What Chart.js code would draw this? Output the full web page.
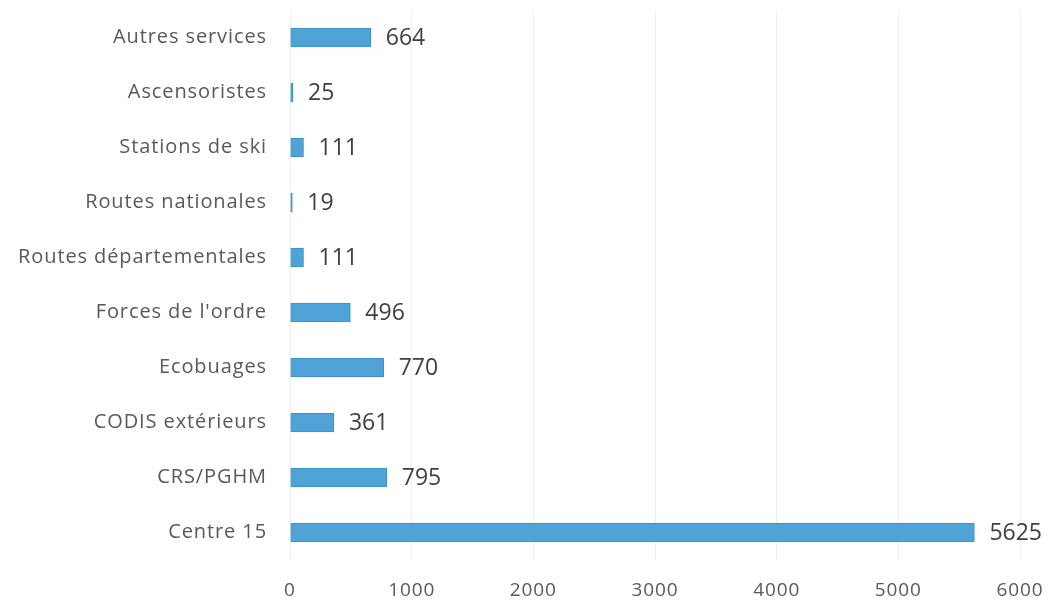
<!DOCTYPE html>
<html>
<head>
<meta charset="utf-8">
<script src="https://cdn.jsdelivr.net/npm/chart.js@4/dist/chart.umd.min.js"></script>
<style>
  html, body { margin: 0; padding: 0; background: #fff; }
  #wrap { width: 1057px; height: 616px; }
</style>
</head>
<body>
<div id="wrap"><canvas id="c"></canvas></div>
<script>
// categories top to bottom
var categories = ['Autres services', 'Ascensoristes', 'Stations de ski', 'Routes nationales',
  'Routes départementales', "Forces de l'ordre", 'Ecobuages', 'CODIS extérieurs', 'CRS/PGHM', 'Centre 15'];
var values = [664, 25, 111, 19, 111, 496, 770, 361, 795, 5625];
var xTicks = [0, 1000, 2000, 3000, 4000, 5000, 6000];

var barColor = '#4fa3d6';

// wider letter spacing, the scanned Calibri text is looser than Open Sans
var spacing = {
  id: 'spacing',
  beforeDraw: function(chart) { chart.ctx.letterSpacing = '0.9px'; }
};

// writes the value just past the end of each bar
var valueLabels = {
  id: 'valueLabels',
  afterDatasetsDraw: function(chart) {
    var ctx = chart.ctx;
    var meta = chart.getDatasetMeta(0);
    ctx.save();
    ctx.letterSpacing = '0px';
    ctx.font = '23px "Open Sans", sans-serif';
    ctx.fillStyle = '#404040';
    ctx.textAlign = 'left';
    ctx.textBaseline = 'middle';
    meta.data.forEach(function(bar, i) {
      ctx.fillText(String(values[i]), bar.x + 15, bar.y + 1);
    });
    ctx.restore();
  }
};

new Chart(document.getElementById('c'), {
  type: 'bar',
  data: {
    labels: categories,
    datasets: [{
      data: values,
      backgroundColor: barColor,
      borderColor: '#3a8fc4',
      borderWidth: 1,
      barThickness: 19
    }]
  },
  options: {
    indexAxis: 'y',
    responsive: true,
    maintainAspectRatio: false,
    animation: false,
    layout: { padding: { top: 10, right: 37, bottom: 0, left: 0 } },
    plugins: {
      legend: { display: false },
      tooltip: { enabled: false }
    },
    scales: {
      x: {
        min: 0,
        max: 6000,
        afterBuildTicks: function(axis) {
          axis.ticks = xTicks.map(function(v) { return { value: v }; });
        },
        afterFit: function(axis) {
          axis.height = 56;
          axis.paddingRight = 0;
          axis.paddingLeft = 0;
        },
        grid: { color: '#f0f0f0', drawTicks: false },
        border: { display: false },
        ticks: {
          color: '#595959',
          padding: 19,
          font: { family: '"Open Sans", sans-serif', size: 19 },
          callback: function(v) { return String(v); }
        }
      },
      y: {
        afterFit: function(axis) {
          axis.width = 290;
          axis.paddingTop = 0;
          axis.paddingBottom = 0;
        },
        grid: { display: false, drawTicks: false },
        border: { display: false },
        ticks: {
          color: '#595959',
          padding: 23,
          font: { family: '"Open Sans", sans-serif', size: 20 }
        }
      }
    }
  },
  plugins: [spacing, valueLabels]
});
</script>
</body>
</html>
